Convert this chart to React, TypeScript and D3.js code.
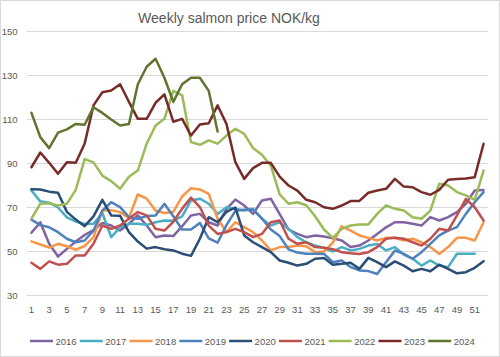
import React from "react";
import * as d3 from "d3";

const weeks: number[] = d3.range(1, 53);
const yTicks: number[] = [30, 50, 70, 90, 110, 130, 150];
const xTickWeeks: number[] = d3.range(1, 53, 2);
const title = "Weekly salmon price NOK/kg";

const years: string[] = ["2016", "2017", "2018", "2019", "2020", "2021", "2022", "2023", "2024"];
const colors: string[] = ["#8064A2", "#4BACC6", "#F79646", "#4F81BD", "#2C4D75", "#C0504D", "#9BBB59", "#772C2A", "#5F7530"];

const v2016: (number | null)[] = [58.5, 63.3, 53.5, 47.7, 51.2, 54.5, 57.5, 59.7, 63, 61.8, 59.5, 62.6, 66.4, 61.8, 56.5, 57.3, 57, 61.5, 66.4, 67.1, 63.3, 61.8, 69.4, 73.6, 70.9, 67.1, 73.2, 74, 67, 60, 58, 56.5, 57.3, 56.8, 56, 55, 52, 52.7, 55, 58, 61, 63.3, 63.3, 62.6, 61.8, 65.6, 64.1, 65.6, 67.9, 71.7, 77.7, 78];
const v2017: (number | null)[] = [77.7, 72.8, 72.2, 70, 65.5, 63.6, 62.5, 62.6, 67.5, 56.5, 61, 62.6, 62.6, 62.1, 63.3, 64.1, 64, 66, 73.2, 74, 71.7, 67.1, 70.1, 69.4, 68.6, 69.4, 64.9, 61.8, 63.3, 60.3, 56.5, 54.2, 52.7, 51.6, 50, 52, 50.5, 51.2, 52.7, 53.4, 50.5, 52, 48.6, 46.7, 43.6, 45.9, 43.6, 42.9, 49, 49, 49, null];
const v2018: (number | null)[] = [54.6, 53.2, 51.8, 53.5, 52.4, 50.8, 52.5, 56.5, 68.6, 68.8, 67.9, 65.2, 76, 74, 68.6, 67.5, 68, 75, 78.8, 78.2, 76.2, 64.9, 58.8, 63.3, 61.1, 58.8, 55, 50.5, 52, 52, 52.7, 52.4, 49.7, 50, 54, 61.4, 59.5, 57.3, 56.2, 55, 56.2, 56.2, 55, 55.8, 54.2, 52, 48.9, 52, 56.2, 56.2, 55, 63.3];
const v2019: (number | null)[] = [64.5, 62, 61, 58.8, 55.8, 54.2, 55, 59.5, 68.6, 72.4, 70.2, 65.6, 64.9, 66.1, 66.4, 71.7, 66, 60, 60, 63, 56, 54, 62, 68.5, 69, 69, 65, 60, 57, 51, 49.5, 49, 49, 48.9, 45.1, 45.9, 42.9, 41.4, 41.1, 39.8, 45.1, 50.4, 48.9, 46.7, 49.7, 53.5, 57.3, 59.5, 61.1, 67.1, 72.4, 77];
const v2020: (number | null)[] = [78.3, 78.2, 77.2, 76.7, 68, 64.5, 61.5, 66, 73.5, 66.4, 66.2, 58.8, 54.5, 51.3, 52, 51, 50.5, 49, 48, 55.8, 65.6, 63.3, 68, 70, 57.3, 54.2, 52, 49.7, 45.9, 44.9, 43.6, 44.4, 46.7, 47, 44, 44.4, 44.9, 42.1, 47.1, 45.2, 42.9, 45.5, 43.6, 41, 42.1, 41, 44, 42.1, 40.1, 40.6, 42.6, 45.6];
const v2021: (number | null)[] = [44.9, 42.1, 45.5, 44, 44.4, 48.2, 48.2, 53.5, 61.8, 60.3, 61.8, 64.9, 67.9, 66.4, 60.3, 59.5, 63.5, 69.5, 74.5, 70.2, 61.8, 58, 58.8, 60.3, 58.8, 56.5, 58, 63.3, 64.1, 55.8, 53.5, 54.2, 52, 51.7, 51, 49.7, 49.2, 48.9, 49.7, 52, 55.8, 56.2, 55.8, 54.2, 52.7, 55.8, 60.3, 59.5, 66.4, 73.9, 70.1, 64.1];
const v2022: (number | null)[] = [64.9, 71.7, 71.9, 70.9, 71.7, 78, 92, 90.5, 84.5, 82, 78.5, 84, 86.8, 99, 107.3, 110.3, 123, 121, 99.7, 98.5, 100.5, 99, 102.7, 105.8, 103.5, 97, 94, 89, 76, 71.7, 72.4, 71, 66, 60, 56.2, 60.3, 61.8, 62.3, 62.3, 67.1, 70.9, 69.4, 68.6, 65.6, 64.9, 68.6, 80.8, 80, 77, 75.5, 73.5, 86.8];
const v2023: (number | null)[] = [88.3, 95, 90.3, 85.3, 90.6, 90.3, 99, 116.4, 122.4, 123.2, 126, 118, 110.3, 110.3, 117.6, 121.4, 109, 110.3, 102.7, 107.7, 108.3, 116.4, 108, 90.6, 83, 87.9, 90.3, 90.3, 84, 80, 77.7, 73.5, 72.4, 70.1, 69.4, 70.9, 72.9, 73, 76.7, 77.7, 78.5, 83, 79.5, 79.2, 77, 75.8, 78, 82.6, 82.9, 83.2, 83.8, 99];
const v2024: (number | null)[] = [113, 102, 97, 104, 105.5, 108, 107.6, 115.6, 113, 110, 107.3, 108, 126, 134, 137.6, 129, 118, 126, 129, 129, 123, 104.5];

const seriesValues: (number | null)[][] = [v2016, v2017, v2018, v2019, v2020, v2021, v2022, v2023, v2024];

const W = 500;
const H = 357;
const FONT = "'Liberation Sans', Arial, sans-serif";
const TEXT = "#595959";

export default function App() {
  const x = d3.scaleBand<number>().domain(weeks).range([27, 488]);
  const y = d3.scaleLinear().domain([30, 150]).range([295.5, 31.5]);
  const cx = (w: number) => (x(w) as number) + x.bandwidth() / 2;

  const line = d3
    .line<{ w: number; v: number | null }>()
    .defined((d) => d.v != null)
    .x((d) => cx(d.w))
    .y((d) => y(d.v as number));

  const legendScale = d3.scaleBand<string>().domain(years).range([30, 478]);

  return (
    <svg width={W} height={H} style={{ position: "absolute", left: 0, top: 0, background: "#fff" }} fontFamily={FONT}>
      <rect x={0.5} y={0.5} width={W - 1} height={H - 1} fill="#fff" stroke="#d9d9d9" />
      <text x={229} y={23} textAnchor="middle" fontSize={14} fill={TEXT}>
        {title}
      </text>
      {yTicks.map((t) => (
        <g key={t}>
          <line x1={27} x2={488} y1={y(t)} y2={y(t)} stroke="#d9d9d9" strokeWidth={1} />
          <text x={17.5} y={y(t)} dy="0.35em" textAnchor="end" fontSize={9.5} fill={TEXT}>
            {t}
          </text>
        </g>
      ))}
      {xTickWeeks.map((w) => (
        <text key={w} x={cx(w)} y={313} textAnchor="middle" fontSize={9.5} fill={TEXT}>
          {w}
        </text>
      ))}
      {seriesValues.map((vals, i) => (
        <path
          key={years[i]}
          d={line(vals.map((v, j) => ({ w: weeks[j], v }))) || ""}
          fill="none"
          stroke={colors[i]}
          strokeWidth={2.5}
          strokeLinejoin="round"
          strokeLinecap="round"
        />
      ))}
      {years.map((yr, i) => {
        const lx = legendScale(yr) as number;
        return (
          <g key={yr}>
            <line x1={lx} x2={lx + 23} y1={341} y2={341} stroke={colors[i]} strokeWidth={2.5} />
            <text x={lx + 25.5} y={344.5} fontSize={9.5} fill={TEXT}>
              {yr}
            </text>
          </g>
        );
      })}
    </svg>
  );
}
